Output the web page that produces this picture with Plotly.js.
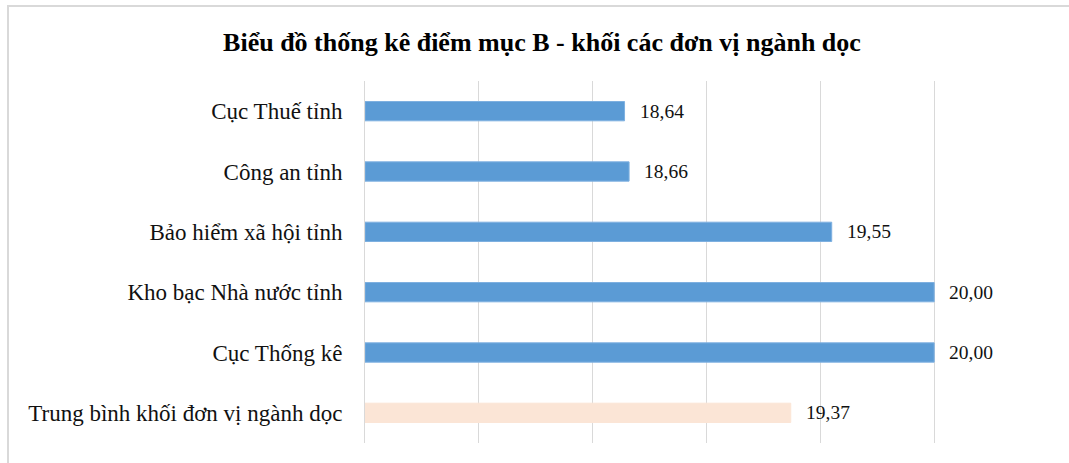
<!DOCTYPE html>
<html>
<head>
<meta charset="utf-8">
<script src="https://cdn.plot.ly/plotly-3.0.1.min.js"></script>
<style>
  html, body { margin: 0; padding: 0; background: #ffffff; }
  #chart { position: absolute; left: 0; top: 0; width: 1069px; height: 463px; }
  #frame { position: absolute; left: 7px; top: 5px; width: 1062px; height: 458px;
           border-top: 2px solid #d9d9d9; border-left: 2px solid #d9d9d9;
           box-sizing: border-box; pointer-events: none; }
</style>
</head>
<body>
<div id="chart"></div>
<div id="frame"></div>
<script>
const categories = [
  "Cục Thuế tỉnh",
  "Công an tỉnh",
  "Bảo hiểm xã hội tỉnh",
  "Kho bạc Nhà nước tỉnh",
  "Cục Thống kê",
  "Trung bình khối đơn vị ngành dọc"
];
const values = [18.64, 18.66, 19.55, 20.00, 20.00, 19.37];
const valueLabels = ["18,64", "18,66", "19,55", "20,00", "20,00", "19,37"];
const barColors = ["#5b9bd5", "#5b9bd5", "#5b9bd5", "#5b9bd5", "#5b9bd5", "#fbe5d6"];
const lineColors = ["#7eb0e0", "#7eb0e0", "#7eb0e0", "#7eb0e0", "#7eb0e0", "#fbe5d6"];
const titleText = "Biểu đồ thống kê điểm mục B - khối các đơn vị ngành dọc";
const axisMin = 17.5;

const font = "'Liberation Serif', 'Times New Roman', serif";

const trace = {
  type: "bar",
  orientation: "h",
  y: categories,
  x: values.map(v => v - axisMin),
  base: axisMin,
  width: 0.32,
  marker: { color: barColors, line: { color: lineColors, width: 1 } },
  hoverinfo: "none"
};

const annotations = categories.map((c, i) => ({
  x: values[i], y: c, xref: "x", yref: "y",
  text: valueLabels[i], showarrow: false,
  xanchor: "left", yanchor: "middle", xshift: 13,
  font: { family: font, size: 19.5, color: "#111111" }
}));

const layout = {
  width: 1069, height: 463,
  margin: { l: 365, r: 21, t: 81, b: 20, pad: 0 },
  paper_bgcolor: "#ffffff", plot_bgcolor: "#ffffff",
  showlegend: false,
  title: {
    text: "<b>" + titleText + "</b>",
    font: { family: font, size: 26, color: "#000000" },
    x: 0.507, xref: "container", xanchor: "center",
    y: 1 - 42 / 463, yref: "container", yanchor: "middle"
  },
  xaxis: {
    range: [17.5, 20.5], dtick: 0.5, tick0: 17.5,
    showticklabels: false, ticks: "",
    showgrid: true, gridcolor: "#d9d9d9", gridwidth: 1,
    zeroline: false, showline: false, fixedrange: true
  },
  yaxis: {
    autorange: "reversed", type: "category",
    showgrid: false, zeroline: false,
    showline: true, linecolor: "#d9d9d9", linewidth: 1,
    ticks: "", ticklabelstandoff: 17,
    tickfont: { family: font, size: 23, color: "#111111" },
    fixedrange: true
  },
  annotations: annotations
};

Plotly.newPlot("chart", [trace], layout, { displayModeBar: false, staticPlot: true });
</script>
</body>
</html>
